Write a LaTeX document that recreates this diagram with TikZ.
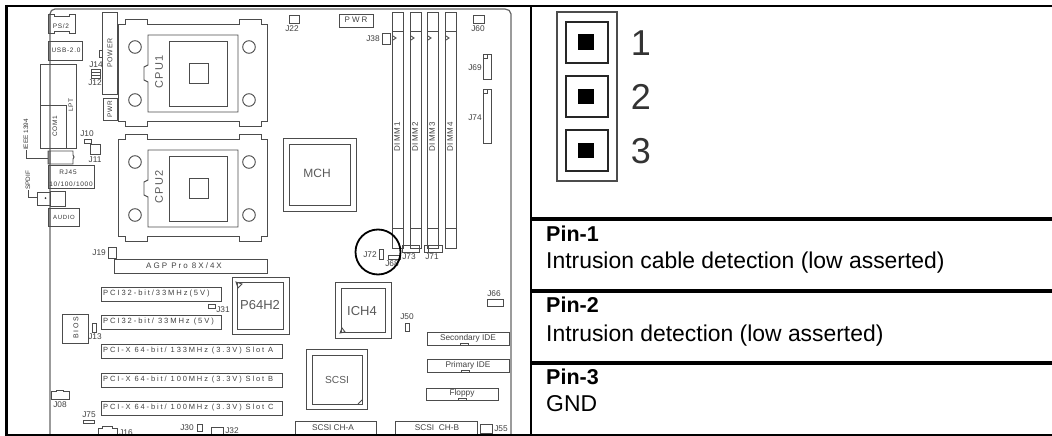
\documentclass[tikz,border=0pt]{standalone}
\usepackage{fontspec}
\setmainfont{Liberation Sans}
\newfontfamily\wideface[LetterSpace=11]{Liberation Sans}
\newfontfamily\spreadface[LetterSpace=25]{Liberation Sans}
\begin{document}
\begin{tikzpicture}[x=1pt,y=-1pt,inner sep=0pt,
  part/.style={draw=black!70,line width=0.9pt},
  edgeband/.style={draw=black!50,line width=2.5pt},
  frameline/.style={draw=black,line width=2pt},
  rowline/.style={draw=black,line width=3.5pt},
  tag/.style={text=black!75,font=\fontsize{8.3}{9}\selectfont},
  tiny/.style={text=black!80,font=\wideface\fontsize{6.5}{8}\selectfont},
  wide/.style={text=black!75,font=\wideface\fontsize{8}{9}\selectfont},
  spread/.style={text=black!75,font=\spreadface\fontsize{8}{9}\selectfont},
  chip/.style={text=black!65,font=\fontsize{13}{14}\selectfont},
  pinhead/.style={font=\bfseries\fontsize{21.5}{24}\selectfont,anchor=west},
  pinbody/.style={font=\fontsize{22.9}{26}\selectfont,anchor=west},
  digit/.style={text=black!80,font=\fontsize{36}{38}\selectfont}]
\useasboundingbox (0,0) rectangle (1052,436);

\draw[draw=black!60,line width=1.2pt] (50,435) -- (50,14) to[out=90,in=180] (55,9) -- (505,9) to[out=0,in=90] (511,14) -- (511,435);
\foreach \ya/\yb in {14/33,41/60,151/164,165/188,208/226}
  \draw[edgeband] (49.5,\ya) -- (49.5,\yb);

\foreach \n/\dy in {1/0,2/115} {
  \begin{scope}[yshift=-\dy pt]
  \draw[part] (118,24) -- (125,24) -- (125,19) -- (147,19) -- (147,24) -- (239,24) -- (239,19) -- (261,19) -- (261,24) -- (267,24) -- (267,121) -- (261,121) -- (261,126) -- (239,126) -- (239,121) -- (147,121) -- (147,126) -- (125,126) -- (125,121) -- (118,121) -- cycle;
  \draw[part] (148,35) -- (238,35) -- (238,112) -- (148,112) -- (148,82) -- (144,80) -- (144,67) -- (148,65) -- cycle;
  \draw[part] (169,41) rectangle (227,106);
  \draw[part] (189,63) rectangle (208,83);
  \foreach \cx/\cy in {135/47,249/47,135/100,249/100}
    \draw[part] (\cx,\cy) circle (6.3);
  \node[chip,font=\wideface\fontsize{11}{12}\selectfont,rotate=90] (cpu\n) at (159,72) {CPU\n};
  \end{scope}
}

\draw[part] (283,138) rectangle (356,211);
\draw[part] (289,144) rectangle (350,205);
\node[chip,font=\fontsize{12}{14}\selectfont] (mch) at (317,173) {MCH};

\foreach \n/\x in {1/392,2/410,3/427,4/445} {
  \draw[part] (\x,12) rectangle +(11,236);
  \draw[part] (\x,31) -- +(11,0);
  \draw[part] (\x,228) -- +(11,0);
  \draw[part] (\x+1,36) -- +(3,2) -- +(0,4);
  \node[wide,rotate=90] (dimm\n) at (\x+5,137) {DIMM\n};
}

\draw[part] (48,14) -- (54,14) -- (54,16) -- (69,16) -- (69,14) -- (75,14) -- (75,33) -- (69,33) -- (69,31) -- (54,31) -- (54,33) -- (48,33) -- cycle;
\node[tiny] (ps2) at (61,26) {PS/2};
\draw[part] (48,41) rectangle (82,60);
\node[tiny] (usb) at (66,50) {USB-2.0};
\draw[part] (40,64) rectangle (76,148);
\draw[part] (40,105) rectangle (66,148);
\node[tiny,rotate=90] (com) at (55,126) {COM1};
\node[tiny,rotate=90] (lpt) at (71,105) {LPT};
\draw[part] (102,12) rectangle (117.5,94);
\draw[part] (102,50) -- (99,50) -- (99,57) -- (102,57);
\node[wide,font=\wideface\fontsize{7}{8}\selectfont,rotate=90] (power) at (110,53) {POWER};
\draw[part] (103,98) rectangle (117,120);
\node[tiny,rotate=90] (pwra) at (110,109) {PWR};
\draw[part] (91,69) rectangle (100,78);
\draw[part] (91,72) -- (100,72) (91,75) -- (100,75);
\node[tag] (j14) at (96,65) {J14};
\node[tag] (j12) at (95,83) {J12};
\draw[part] (84,139) rectangle (91,143);
\node[tag] (j10) at (87,134) {J10};
\draw[part] (90,144) rectangle (100,154);
\node[tag] (j11) at (95,160) {J11};

\draw[part] (48,151) -- (73,151) -- (73,155) -- (74,157) -- (73,159) -- (73,164) -- (48,164) -- cycle;
\coordinate (fw) at (48,158);
\node[tiny,font=\fontsize{6.4}{8}\selectfont,rotate=90,anchor=west] (ieee) at (26,150) {IEEE 1394};
\draw[part] (ieee.west) |- (fw);
\draw[part] (48,165) rectangle (94,188);
\node[tiny] (rj) at (68,172) {RJ45};
\node[tiny] (lan) at (71,184) {10/100/1000};
\draw[part] (37,192) rectangle (50,205);
\draw[part] (50,191) rectangle (65,206);
\fill[black!80] (45.5,198) circle (1);
\coordinate (sp) at (37,197);
\node[tiny,font=\fontsize{6.4}{8}\selectfont,rotate=90,anchor=west] (spdif) at (28,190) {SPDIF};
\draw[part] (spdif.west) |- (sp);
\draw[part] (48,208) rectangle (79,226);
\node[tiny,font=\wideface\fontsize{6}{8}\selectfont] (audio) at (64,217) {AUDIO};

\draw[part] (108,247) rectangle (116,258);
\node[tag,anchor=east] (j19) at (106,253) {J19};
\draw[part] (114,259) rectangle (267,273);
\node[spread] (agp) at (184,266) {AGP Pro 8X/4X};

\foreach \n/\y/\t in {a/287/{PCI32-bit/33MHz(5V)},b/315/{PCI32-bit/ 33MHz (5V)}} {
  \draw[part] (101,\y) rectangle +(120,14);
  \node[spread,font=\spreadface\fontsize{7.6}{9}\selectfont,anchor=west] (pci\n) at (103,\y+7) {\t};
}
\foreach \n/\y/\t in {a/344/133MHz (3.3V) Slot A,b/373/100MHz (3.3V) Slot B,c/401/100MHz (3.3V) Slot C} {
  \draw[part] (101,\y) rectangle +(181,14);
  \node[spread,font=\spreadface\fontsize{7.5}{9}\selectfont,anchor=west] (pcix\n) at (103,\y+7) {PCI-X 64-bit/ \t};
}
\draw[part] (208,304) rectangle (215,308);
\node[tag] (j31) at (223,310) {J31};
\draw[part] (62,314) rectangle (88,343);
\node[tiny,font=\spreadface\fontsize{7}{8}\selectfont,rotate=90] (bios) at (76,328) {BIOS};
\draw[part] (92,323) rectangle (96,332);
\node[tag] (j13) at (95,337) {J13};
\draw[part] (51,399) -- (51,391) -- (56,391) -- (56,390) -- (63,390) -- (63,391) -- (69,391) -- (69,399) -- cycle;
\node[tag] (j08) at (60,405) {J08};
\draw[part] (83,420) rectangle (94,423);
\node[tag] (j75) at (89,415) {J75};
\draw[part] (98,435) -- (98,428) -- (102,428) -- (102,426) -- (112,426) -- (112,428) -- (117,428) -- (117,435);
\node[tag] (j16) at (126,433) {J16};
\draw[part] (197,424) rectangle (202,431);
\node[tag] (j30) at (187,428) {J30};
\draw[part] (211,427) rectangle (223,435);
\node[tag] (j32) at (232,431) {J32};

\draw[part] (232,277) rectangle (289,334);
\draw[part] (237,282) rectangle (283,329);
\draw[part] (236,282) -- (242,284) -- (238,288) -- cycle;
\node[chip] (p64) at (260,305) {P64H2};

\draw[part] (335,282) rectangle (391,338);
\draw[part] (341,288) rectangle (385,332);
\draw[part] (340,333) -- (342,328) -- (345,332) -- cycle;
\node[chip] (ich) at (362,311) {ICH4};
\draw[part] (306,349) rectangle (367,409);
\draw[part] (312,355) rectangle (362,404);
\draw[part] (358,404) -- (362,400);
\node[text=black!65,font=\fontsize{10.2}{12}\selectfont] (scsi) at (337,380) {SCSI};

\draw[part] (295,421) rectangle (376,435);
\node[tag] (cha) at (333,428) {SCSI CH-A};
\draw[part] (395,421) rectangle (477,435);
\node[tag] (chb) at (437,428) {SCSI\ \ CH-B};
\draw[part] (480,424) rectangle (492,433);
\node[tag] (j55) at (501,429) {J55};

\draw[part] (427,332) rectangle (509,345);
\draw[part] (460,345) |- (468,343) -- (468,345);
\node[tag] (sec) at (468,338) {Secondary IDE};
\draw[part] (427,359) rectangle (509,372);
\draw[part] (461,372) |- (469,370) -- (469,372);
\node[tag] (pri) at (468,365) {Primary IDE};
\draw[part] (426,388) rectangle (498,400);
\draw[part] (458,400) |- (466,398) -- (466,400);
\node[tag] (flop) at (462,393) {Floppy};

\draw[part] (289,15) rectangle (299,23);
\node[tag] (j22) at (292,29) {J22};
\draw[part] (339,14) rectangle (373,27);
\node[spread] (pwrb) at (356,20) {PWR};
\draw[part] (382,33) rectangle (390,44);
\node[tag] (j38) at (373,39) {J38};
\draw[part] (473,15) rectangle (484,23);
\node[tag] (j60) at (478,29) {J60};
\draw[part] (483,54) rectangle (491,79);
\draw[part] (483,58) -| (487,54);
\node[tag] (j69) at (475,68) {J69};
\draw[part] (483,89) rectangle (491,143);
\draw[part] (483,93) -| (487,89);
\node[tag] (j74) at (475,118) {J74};
\draw[part] (487,299) rectangle (503,306);
\node[tag] (j66) at (494,294) {J66};
\draw[part] (405,323) rectangle (409,331);
\node[tag] (j50) at (407,317) {J50};

\draw[part] (402,245) rectangle (419,252);
\node[tag] (j73) at (409,257) {J73};
\draw[part] (424,245) rectangle (442,252);
\draw[part] (428,245) -- (428,252);
\node[tag] (j71) at (432,257) {J71};
\draw[part] (379,249) rectangle (383,259);
\node[tag] (j72) at (370,255) {J72};
\draw[part] (388,255) rectangle (400,259);
\node[tag] (j68) at (392,264) {J68};
\draw[draw=black,line width=1.8pt] (378,252) circle (22.5);

\draw[frameline,line width=3pt] (6.5,5) -- (6.5,435);
\draw[frameline] (5,6.5) -- (1052,6.5);
\draw[frameline] (530.5,6) -- (530.5,436);
\draw[frameline,line width=1.5pt] (5,435.2) -- (1052,435.2);
\foreach \y in {219,291,363}
  \draw[rowline] (530,\y) -- (1052,\y);

\draw[part,line width=1.1pt] (557,12) rectangle (617,181);
\foreach \n/\y in {1/22,2/76,3/130} {
  \draw[part,draw=black!85,line width=1.1pt] (566,\y) rectangle +(42,41);
  \fill[black] (578,\y+12.5) rectangle +(16,15.5);
  \node[digit] (pin\n) at (641,\y+21) {\n};
}

\node[pinhead] (heada) at (546,234) {Pin-1};
\node[pinbody] (bodya) at (546,263) {Intrusion cable detection (low asserted)};
\node[pinhead] (headb) at (546,305) {Pin-2};
\node[pinbody] (bodyb) at (546,336) {Intrusion detection (low asserted)};
\node[pinhead] (headc) at (546,377) {Pin-3};
\node[pinbody] (bodyc) at (546,404) {GND};
\end{tikzpicture}
\end{document}
